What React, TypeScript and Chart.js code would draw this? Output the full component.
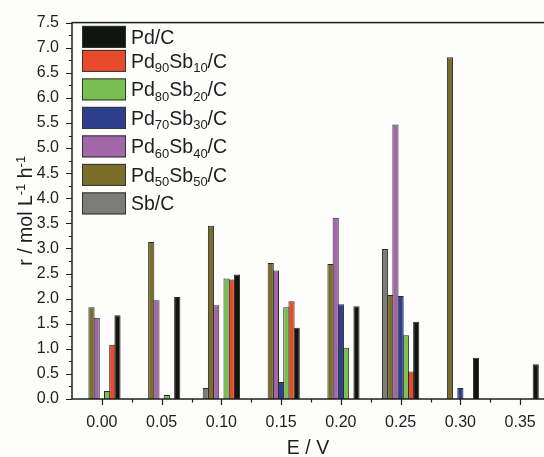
import React, { useEffect, useRef } from 'react';
import { Chart, registerables } from 'chart.js';

Chart.register(...registerables);

// ---------- data ----------
const categories = ['0.00', '0.05', '0.10', '0.15', '0.20', '0.25', '0.30', '0.35'];

const sbC = [null, null, 0.22, null, null, 2.99, null, null];
const pd50sb50 = [1.83, 3.13, 3.45, 2.71, 2.69, 2.07, 6.81, null];
const pd60sb40 = [1.62, 1.97, 1.87, 2.56, 3.61, 5.47, null, null];
const pd70sb30 = [null, null, null, 0.34, 1.89, 2.05, 0.22, null];
const pd80sb20 = [0.16, 0.08, 2.4, 1.83, 1.02, 1.27, null, null];
const pd90sb10 = [1.08, null, 2.38, 1.95, null, 0.55, null, null];
const pdC = [1.67, 2.03, 2.48, 1.42, 1.85, 1.54, 0.82, 0.69];

const seriesLabels = ['Sb/C', 'Pd_{50}Sb_{50}/C', 'Pd_{60}Sb_{40}/C', 'Pd_{70}Sb_{30}/C', 'Pd_{80}Sb_{20}/C', 'Pd_{90}Sb_{10}/C', 'Pd/C'];
const seriesColors = ['#7b7b79', '#7b6d2c', '#a267a8', '#2f3e8f', '#7abf52', '#e84a2e', '#101510'];
const seriesValues = [sbC, pd50sb50, pd60sb40, pd70sb30, pd80sb20, pd90sb10, pdC];

const yMin = 0;
const yMax = 7.5;
const yStep = 0.5;
const xTitle = 'E / V';
const yTitle = 'r / mol L^{-1} h^{-1}';

const FONT = '"Liberation Sans", Arial, sans-serif';
const INK = '#1e1e1e';

type Seg = { t: string; k: number };
function parseRich(s: string): Seg[] {
  const out: Seg[] = [];
  const re = /([_^])\{([^}]*)\}/g;
  let last = 0;
  let m: RegExpExecArray | null;
  while ((m = re.exec(s))) {
    if (m.index > last) out.push({ t: s.slice(last, m.index), k: 0 });
    out.push({ t: m[2], k: m[1] === '_' ? -1 : 1 });
    last = re.lastIndex;
  }
  if (last < s.length) out.push({ t: s.slice(last), k: 0 });
  return out;
}

function richWidth(ctx: CanvasRenderingContext2D, segs: Seg[], size: number, small: number) {
  let w = 0;
  for (const s of segs) {
    ctx.font = `${s.k === 0 ? size : small}px ${FONT}`;
    w += ctx.measureText(s.t).width;
  }
  return w;
}

function drawRich(ctx: CanvasRenderingContext2D, segs: Seg[], x: number, y: number, size: number, small: number, subShift: number, supShift: number) {
  ctx.textAlign = 'left';
  ctx.textBaseline = 'alphabetic';
  let cx = x;
  for (const s of segs) {
    ctx.font = `${s.k === 0 ? size : small}px ${FONT}`;
    const dy = s.k === -1 ? subShift : s.k === 1 ? -supShift : 0;
    ctx.fillText(s.t, cx, y + dy);
    cx += ctx.measureText(s.t).width;
  }
}

const decorPlugin = {
  id: 'decor',
  afterDraw(chart: any) {
    const ctx: CanvasRenderingContext2D = chart.ctx;
    const { left, right, top, bottom } = chart.chartArea;
    const xs = chart.scales.x;
    const ys = chart.scales.y;
    ctx.save();
    ctx.strokeStyle = INK;
    ctx.fillStyle = INK;

    // ticks
    ctx.lineWidth = 1.2;
    ctx.beginPath();
    for (let v = yMin; v <= yMax + 1e-9; v += yStep / 2) {
      const py = Math.round(ys.getPixelForValue(v)) + 0.5;
      const major = Math.abs(v / yStep - Math.round(v / yStep)) < 1e-6;
      ctx.moveTo(left, py);
      ctx.lineTo(left - (major ? 6 : 3), py);
    }
    const n = categories.length;
    for (let i = 0; i < n; i++) {
      const px = Math.round(xs.getPixelForTick(i)) + 0.5;
      ctx.moveTo(px, bottom);
      ctx.lineTo(px, bottom + 6);
      if (i < n - 1) {
        const mx = Math.round((xs.getPixelForTick(i) + xs.getPixelForTick(i + 1)) / 2) + 0.5;
        ctx.moveTo(mx, bottom);
        ctx.lineTo(mx, bottom + 3.5);
      }
    }
    ctx.stroke();

    // frame
    ctx.lineWidth = 1.5;
    ctx.strokeRect(left, top, right - left, bottom - top);

    // legend
    const order = seriesLabels.map((_, i) => i).reverse();
    let rowTop = top + 3.3;
    for (const i of order) {
      const segs = parseRich(seriesLabels[i]);
      const hasSub = segs.some((s) => s.k !== 0);
      const bx = left + 10;
      const bw = 44;
      const bh = 22;
      ctx.fillStyle = seriesColors[i];
      ctx.fillRect(bx, rowTop, bw, bh);
      ctx.lineWidth = 1;
      ctx.strokeStyle = '#333';
      ctx.strokeRect(bx + 0.5, rowTop + 0.5, bw - 1, bh - 1);
      ctx.fillStyle = INK;
      drawRich(ctx, segs, bx + 49, rowTop + bh / 2 + 7, 19.5, 13, 4.5, 7);
      rowTop += hasSub ? 28.5 : 24;
    }

    // x title
    ctx.fillStyle = INK;
    ctx.font = `19.5px ${FONT}`;
    ctx.textAlign = 'center';
    ctx.textBaseline = 'alphabetic';
    ctx.fillText(xTitle, (left + right) / 2 - 3, 454);

    // y title
    const ySegs = parseRich(yTitle);
    const w = richWidth(ctx, ySegs, 19.5, 13);
    ctx.save();
    ctx.translate(32, (top + bottom) / 2);
    ctx.rotate(-Math.PI / 2);
    drawRich(ctx, ySegs, -w / 2, 0, 19.5, 13, 4.5, 7.5);
    ctx.restore();

    ctx.restore();
  },
};

export default function App() {
  const ref = useRef<HTMLCanvasElement | null>(null);
  useEffect(() => {
    if (!ref.current) return;
    const chart = new Chart(ref.current, {
      type: 'bar',
      data: {
        labels: categories,
        datasets: seriesValues.map((vals, i) => ({
          label: seriesLabels[i],
          data: vals,
          backgroundColor: seriesColors[i],
          borderColor: '#2a2a2a',
          borderWidth: 1,
          categoryPercentage: 0.609,
          barPercentage: 1.19,
        })),
      },
      options: {
        animation: false,
        responsive: false,
        devicePixelRatio: 1,
        layout: { padding: { top: 20, right: 10, left: 0, bottom: 0 } },
        plugins: { legend: { display: false }, tooltip: { enabled: false }, title: { display: false } },
        scales: {
          x: {
            type: 'category',
            offset: true,
            grid: { display: false, drawTicks: false },
            border: { display: false },
            ticks: { font: { size: 16, family: FONT }, color: INK, padding: 14, maxRotation: 0, autoSkip: false },
            afterFit: (s: any) => {
              s.height = 58;
            },
          },
          y: {
            min: yMin,
            max: yMax,
            grid: { display: false, drawTicks: false },
            border: { display: false },
            ticks: {
              stepSize: yStep,
              font: { size: 16, family: FONT },
              color: INK,
              padding: 13,
              callback: (v: any) => Number(v).toFixed(1),
            },
            afterFit: (s: any) => {
              s.width = 72;
            },
          },
        },
      },
      plugins: [decorPlugin],
    } as any);
    return () => chart.destroy();
  }, []);

  return (
    <div style={{ position: 'fixed', left: 0, top: 0, width: 544, height: 457, overflow: 'hidden', background: '#fdfdfc' }}>
      <canvas ref={ref} width={560} height={457} style={{ display: 'block' }} />
    </div>
  );
}
